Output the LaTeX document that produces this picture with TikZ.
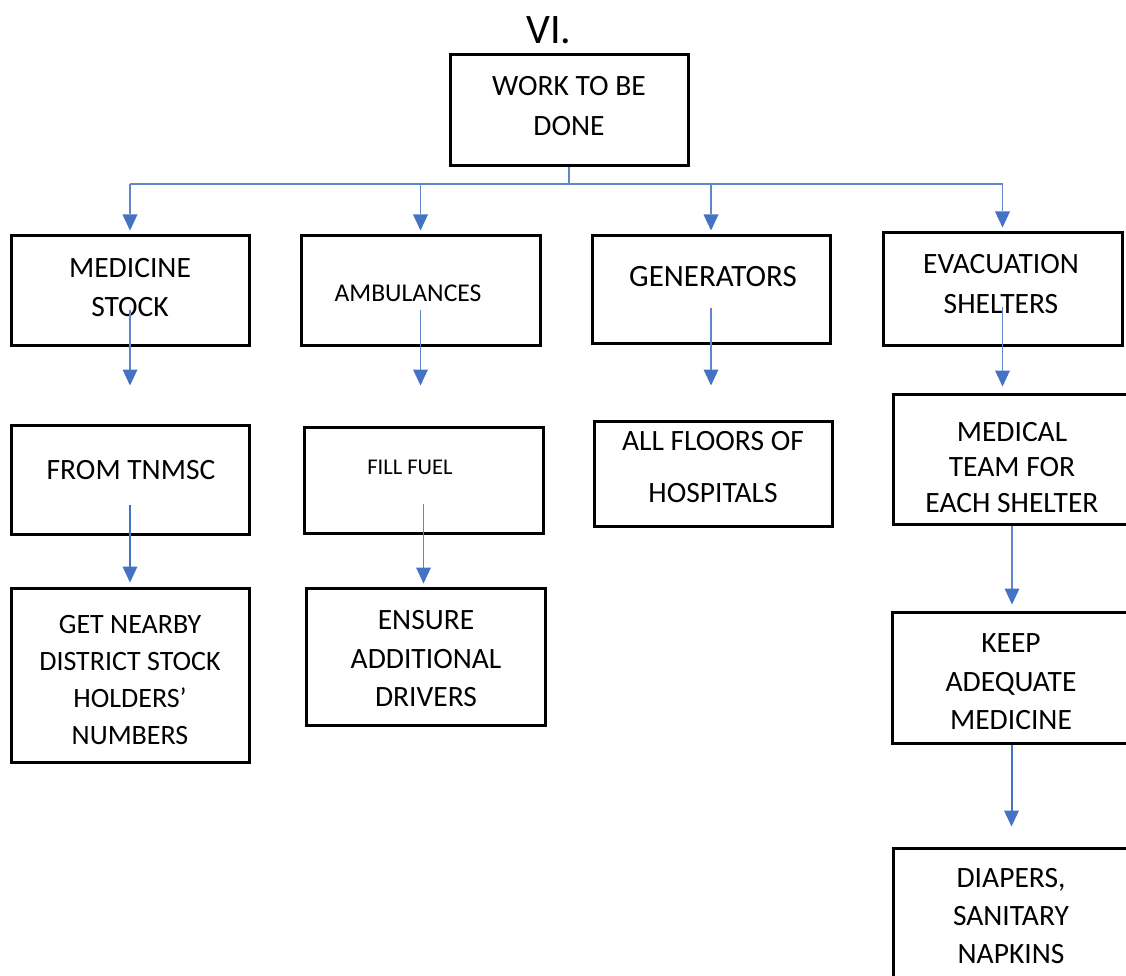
\documentclass[tikz,border=0pt]{standalone}
\usepackage{fontspec}
\setmainfont{Carlito}
\usetikzlibrary{arrows.meta,calc}
\definecolor{linkblue}{HTML}{4472C4}
\newcommand\fsz[2]{\fontsize{#1pt}{#2pt}\selectfont}
\tikzset{
  box/.style={draw=black, line width=3pt, rectangle, inner sep=0pt},
  txt/.style={inner sep=0pt, align=center, text=black},
  conn/.style={draw=linkblue!85, line width=1.2pt},
  arr/.style={conn, -{Triangle[width=15pt,length=16pt,color=linkblue,fill=linkblue,line width=0pt]}},
  heavy/.style={draw=linkblue, line width=2pt}
}
\begin{document}
\begin{tikzpicture}[x=1pt,y=-1pt]
\clip (0,0) rectangle (1126,976);
\fill[white] (0,0) rectangle (1126,976);

% boxes
\node[box, minimum width=238, minimum height=111] (top)    at (569,110.5)  {};
\node[box, minimum width=238, minimum height=109] (ms)     at (130,290.5)  {};
\node[box, minimum width=239, minimum height=109] (amb)    at (420.5,290.5){};
\node[box, minimum width=238, minimum height=107] (gen)    at (711,289.5)  {};
\node[box, minimum width=239, minimum height=112] (evac)   at (1002.5,289) {};
\node[box, minimum width=238, minimum height=109] (tn)     at (130,479.5)  {};
\node[box, minimum width=239, minimum height=106] (fuel)   at (423.5,480)  {};
\node[box, minimum width=238, minimum height=105] (floors) at (713,473.5)  {};
\node[box, minimum width=238, minimum height=130] (med)    at (1012,459)   {};
\node[box, minimum width=239, minimum height=131] (keep)   at (1011.5,677.5){};
\node[box, minimum width=238, minimum height=142] (diap)   at (1012,919)   {};
\node[box, minimum width=238, minimum height=174] (get)    at (130,675)    {};
\node[box, minimum width=239, minimum height=137] (ens)    at (425.5,656.5){};

% texts
\node[txt, font=\fsz{42}{50}] (vi) at (549,30) {VI.};
\node[txt, font=\fsz{29.5}{40}] (topt) at (569,106) {WORK TO BE\\DONE};
\node[txt, font=\fsz{29.5}{39}] (mst) at (130,287.5) {MEDICINE\\STOCK};
\node[txt, font=\fsz{25.6}{30}] (ambt) at (408,293) {AMBULANCES};
\node[txt, font=\fsz{31}{36}] (gent) at (713,277) {GENERATORS};
\node[txt, font=\fsz{29.5}{40}] (evact) at (1001,284) {EVACUATION\\SHELTERS};
\node[txt, font=\fsz{29.5}{34}] (tnt) at (131,470) {FROM TNMSC};
\node[txt, font=\fsz{22.5}{26}] (fuelt) at (410,467) {FILL FUEL};
\node[txt, font=\fsz{29.5}{52}] (floorst) at (713,467) {ALL FLOORS OF\\HOSPITALS};
\node[txt, font=\fsz{29.5}{35.5}] (medt) at (1012,467.3) {MEDICAL\\TEAM FOR\\EACH SHELTER};
\node[txt, font=\fsz{29.5}{38.5}] (keept) at (1011,681.7) {KEEP\\ADEQUATE\\MEDICINE};
\node[txt, font=\fsz{29.5}{38}] (diapt) at (1011,916) {DIAPERS,\\SANITARY\\NAPKINS};
\node[txt, font=\fsz{28}{37}] (gett) at (130,680) {GET NEARBY\\DISTRICT STOCK\\HOLDERS’\\NUMBERS};
\node[txt, font=\fsz{29.5}{38.5}] (enst) at (426,658.7) {ENSURE\\ADDITIONAL\\DRIVERS};

% top level fan-out
\coordinate (bus) at (569,184);
\draw[conn] (top.south) -- (bus);
\draw[conn] (ms.north |- bus) -- (evac.north |- bus);
\foreach \n in {ms,amb,gen,evac}
  \draw[arr] (\n.north |- bus) -- ($(\n.north)+(0,-4)$);

% column connectors
\draw[arr] ($(ms.south)+(0,-37)$)   -- ($(ms.south |- tn.north)+(0,-38)$);
\draw[arr] ($(amb.south)+(0,-37)$)  -- ($(amb.south |- fuel.north)+(0,-40)$);
\draw[arr] ($(gen.south)+(0,-37)$)  -- ($(gen.south |- floors.north)+(0,-34)$);
\draw[arr] ($(evac.south)+(0,-40)$) -- ($(evac.south |- med.north)+(0,-6)$);
\draw[arr, heavy] ($(tn.south)+(0,-31)$)   -- ($(tn.south |- get.north)+(0,-4)$);
\draw[arr] ($(fuel.south)+(0,-31)$) -- ($(fuel.south |- ens.north)+(0,-3)$);
\draw[arr] (med.south)  -- ($(med.south |- keep.north)+(0,-6)$);
\draw[arr, heavy] (keep.south) -- ($(keep.south |- diap.north)+(0,-20)$);
\end{tikzpicture}
\end{document}
